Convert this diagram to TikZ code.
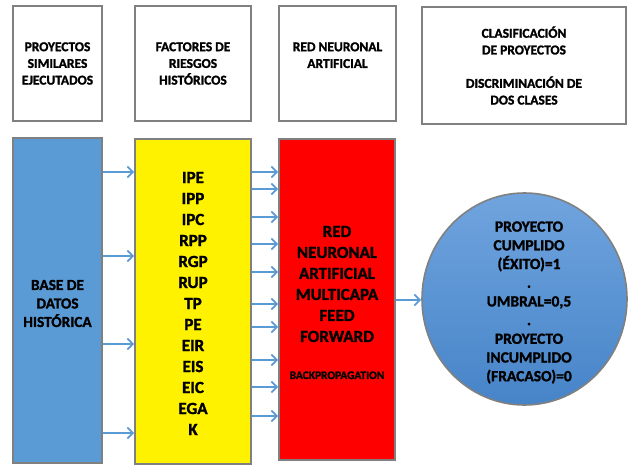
\documentclass[tikz,border=0pt]{standalone}
\usepackage{fontspec}
\setmainfont{Carlito}[BoldFont={Carlito Bold}, BoldFeatures={FakeBold=1.5}]
\usetikzlibrary{arrows.meta,shapes.geometric}
\definecolor{bord}{RGB}{128,128,128}
\definecolor{dbblue}{RGB}{91,155,213}
\definecolor{arrblue}{RGB}{91,155,213}
\definecolor{ctop}{RGB}{112,164,222}
\definecolor{cbot}{RGB}{70,132,200}
\tikzset{
  topbox/.style={draw=bord, line width=1.6pt, fill=white, align=center, font=\fontsize{13.5}{16.7}\selectfont\bfseries, inner sep=0pt},
  colbox/.style={draw=bord, line width=1.6pt, inner sep=0pt},
  txt/.style={align=center, inner sep=0pt},
  arr/.style={draw=arrblue, line width=1.8pt, -{Straight Barb[length=5.5pt,width=11pt]}},
}
\begin{document}
\begin{tikzpicture}[x=1pt,y=-1pt]
\useasboundingbox (0,0) rectangle (628,465);
% top boxes
\node[topbox, minimum width=89pt, minimum height=115pt] (t1) at (57.5,63.5) {PROYECTOS\\SIMILARES\\EJECUTADOS};
\node[topbox, minimum width=116pt, minimum height=115pt] (t2) at (193,63.5) {FACTORES DE\\RIESGOS\\HISTÓRICOS};
\node[topbox, minimum width=117pt, minimum height=115pt] (t3) at (337.5,63.5) {RED NEURONAL\\ARTIFICIAL\\\mbox{}};
\node[topbox, minimum width=204pt, minimum height=117pt] (t4) at (524,65.5) {CLASIFICACIÓN\\DE PROYECTOS\\\mbox{}\\DISCRIMINACIÓN DE\\DOS CLASES};
% columns
\node[colbox, fill=dbblue, minimum width=89pt, minimum height=325pt] (db) at (57.5,300.5) {};
\node[txt, font=\fontsize{15.3}{18.5}\selectfont\bfseries] (dbt) at (57.5,303.5) {BASE DE\\DATOS\\HISTÓRICA};
\node[colbox, fill=yellow, minimum width=116pt, minimum height=325pt] (fac) at (193,301.5) {};
\node[txt, font=\fontsize{17}{21}\selectfont\bfseries] (fact) at (193,303.5) {IPE\\IPP\\IPC\\RPP\\RGP\\RUP\\TP\\PE\\EIR\\EIS\\EIC\\EGA\\K};
\node[colbox, fill=red, minimum width=116pt, minimum height=321pt] (rna) at (337,299.5) {};
\node[txt, font=\fontsize{17}{21}\selectfont\bfseries] (rnat) at (337,302.5) {RED\\NEURONAL\\ARTIFICIAL\\MULTICAPA\\FEED\\FORWARD\\[16pt]{\fontsize{11.4}{13}\selectfont BACKPROPAGATION}};
\node[ellipse, draw=bord, line width=1.6pt, top color=ctop, bottom color=cbot, minimum width=205pt, minimum height=212pt, inner sep=0pt] (out) at (524.5,299) {};
\node[txt, font=\fontsize{15.5}{18.7}\selectfont\bfseries] (outt) at (529,302.5) {PROYECTO\\CUMPLIDO\\(ÉXITO)=1\\.\\UMBRAL=0,5\\.\\PROYECTO\\INCUMPLIDO\\(FRACASO)=0};
% arrows db -> fac
\foreach \y in {172,256,344,433}{
  \draw[arr] (db.east |- 0,\y) -- (fac.west |- 0,\y);
}
% arrows fac -> rna
\foreach \y in {172,189,217,244,272,304,327,360,387,416}{
  \draw[arr] (fac.east |- 0,\y) -- (rna.west |- 0,\y);
}
\draw[arr] (rna.east |- 0,300) -- (out.west |- 0,300);
\end{tikzpicture}
\end{document}
